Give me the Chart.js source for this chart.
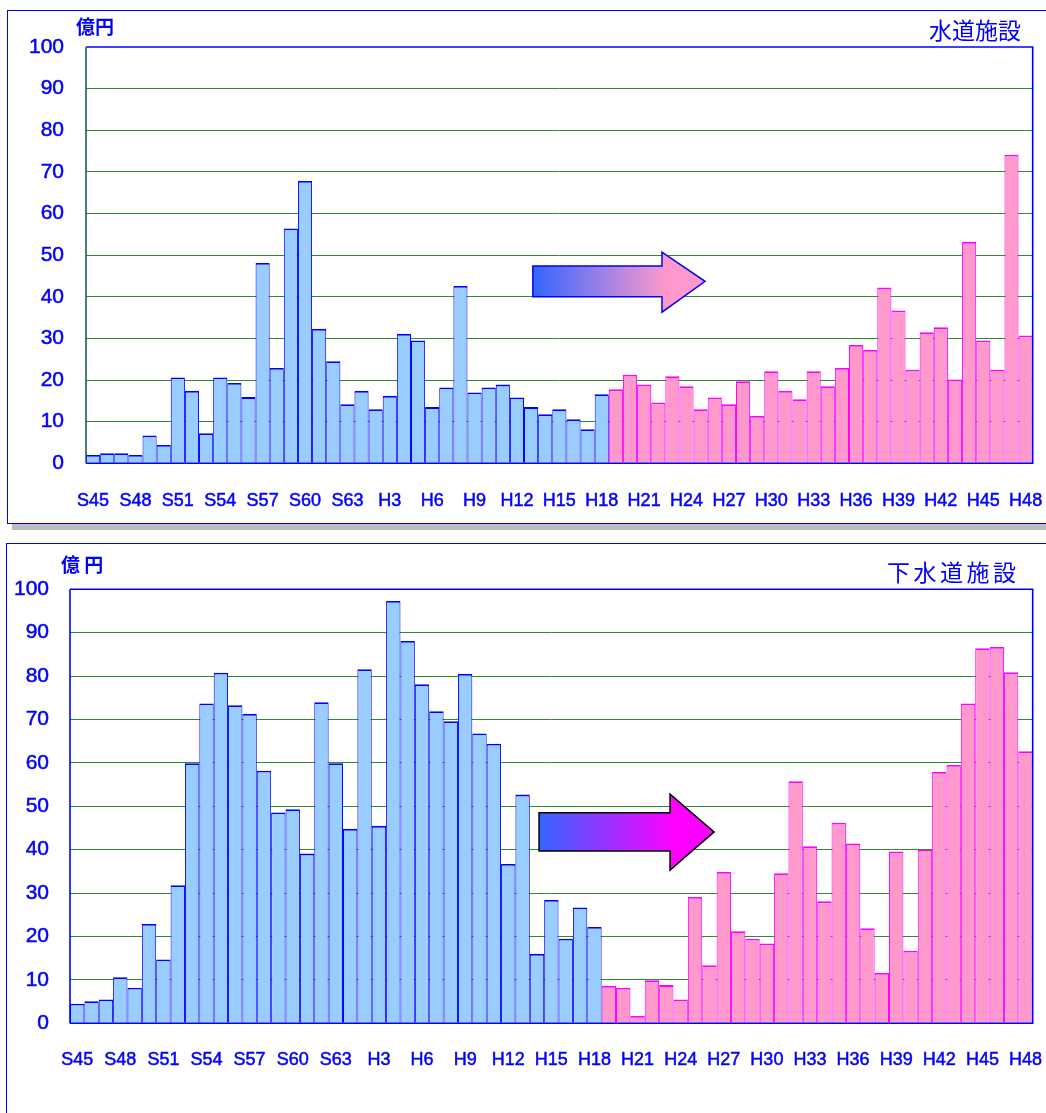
<!DOCTYPE html>
<html>
<head>
<meta charset="utf-8">
<script src="https://cdn.jsdelivr.net/npm/chart.js@4.4.1/dist/chart.umd.min.js"></script>
<style>
  html, body { margin: 0; padding: 0; background: #fff; overflow: hidden; }
  body { width: 1046px; height: 1113px; position: relative; }
  .panel { position: absolute; box-sizing: border-box; border: 1.6px solid #0000ff; background: #fff; }
  #panelWater { left: 6.5px; top: 9.5px; width: 1100px; height: 514px; box-shadow: 5px 6px 0 #bcbcbc; }
  #panelSewer { left: 6px; top: 543px; width: 1100px; height: 700px; }
  canvas { position: absolute; left: 0; }
  #waterChart { top: 0; }
  #sewerChart { top: 540px; }
</style>
</head>
<body>
<div class="panel" id="panelWater"></div>
<div class="panel" id="panelSewer"></div>
<canvas id="waterChart" width="1046" height="540"></canvas>
<canvas id="sewerChart" width="1046" height="573"></canvas>
<script>
// Fiscal years: Showa 45-63, then Heisei 1-48
const categories = [
  'S45','S46','S47','S48','S49','S50','S51','S52','S53','S54','S55','S56','S57','S58','S59','S60','S61','S62','S63',
  'H1','H2','H3','H4','H5','H6','H7','H8','H9','H10','H11','H12','H13','H14','H15','H16','H17','H18',
  'H19','H20','H21','H22','H23','H24','H25','H26','H27','H28','H29','H30','H31','H32','H33','H34','H35','H36',
  'H37','H38','H39','H40','H41','H42','H43','H44','H45','H46','H47','H48'
];
// every third year carries a label on the axis
const tickLabels = ['S45','S48','S51','S54','S57','S60','S63','H3','H6','H9','H12','H15','H18',
  'H21','H24','H27','H30','H33','H36','H39','H42','H45','H48'];

// 水道施設 (億円): built S45-H18, renewal need H19-H48
const waterActual = [2.0, 2.4, 2.4, 2.0, 6.7, 4.4, 20.6, 17.4, 7.2, 20.6, 19.3, 15.9, 48.1, 22.9, 56.4, 67.8, 32.3, 24.5, 14.2,
  17.4, 13.0, 16.2, 31.1, 29.5, 13.5, 18.2, 42.6, 17.0, 18.2, 18.9, 15.8, 13.5, 11.8, 13.0, 10.6, 8.2, 16.6];
const waterForecast = [17.8, 21.3, 18.9, 14.6, 20.9, 18.5, 13.0, 15.8, 14.2, 19.7, 11.4, 22.1, 17.4, 15.4, 22.1,
  18.5, 22.9, 28.4, 27.2, 42.2, 36.7, 22.5, 31.5, 32.7, 20.1, 53.2, 29.5, 22.5, 74.1, 30.7];

// 下水道施設 (億円)
const sewerActual = [4.5, 5.1, 5.5, 10.6, 8.2, 22.9, 14.7, 31.8, 59.9, 73.7, 80.8, 73.3, 71.3, 58.2, 48.6, 49.3, 39.1, 74.0, 59.9,
  44.8, 81.6, 45.5, 97.3, 88.1, 78.1, 71.9, 69.6, 80.5, 66.8, 64.4, 36.7, 52.7, 16.0, 28.4, 19.5, 26.7, 22.2];
const sewerForecast = [8.6, 8.2, 1.7, 9.9, 8.8, 5.5, 29.1, 13.4, 34.9, 21.2, 19.5, 18.4, 34.6, 55.8, 40.8,
  28.1, 46.2, 41.4, 21.9, 11.6, 39.6, 16.7, 40.0, 57.9, 59.5, 73.7, 86.4, 86.7, 80.9, 62.7];

const yTicks = [0, 10, 20, 30, 40, 50, 60, 70, 80, 90, 100];

const BLUE = '#0000ff';
const NUM_FONT = "'Liberation Sans', Arial, sans-serif";
const JP_FONT = "'Noto Sans CJK JP', sans-serif";

// frame around the plot, trend arrow, unit and title text
const decor = {
  id: 'decor',
  afterDatasetsDraw(chart, args, o) {
    const { ctx, chartArea: a, scales: { y } } = chart;
    ctx.save();
    // arrow
    const w = a.right - a.left;
    const x0 = a.left + w * o.arrow.x0, xh = a.left + w * o.arrow.xHead, xt = a.left + w * o.arrow.xTip;
    const s1 = y.getPixelForValue(o.arrow.shaftTop), s2 = y.getPixelForValue(o.arrow.shaftBottom);
    const h1 = y.getPixelForValue(o.arrow.headTop), h2 = y.getPixelForValue(o.arrow.headBottom);
    const ym = (s1 + s2) / 2;
    const g = ctx.createLinearGradient(x0, 0, xt, 0);
    g.addColorStop(0, '#3366ff');
    g.addColorStop(0.78, o.arrow.endColor);
    g.addColorStop(1, o.arrow.endColor);
    ctx.beginPath();
    ctx.moveTo(x0, s1); ctx.lineTo(xh, s1); ctx.lineTo(xh, h1); ctx.lineTo(xt, ym);
    ctx.lineTo(xh, h2); ctx.lineTo(xh, s2); ctx.lineTo(x0, s2); ctx.closePath();
    ctx.fillStyle = g; ctx.fill();
    ctx.lineWidth = 1.5; ctx.lineJoin = 'miter'; ctx.strokeStyle = o.arrow.stroke; ctx.stroke();

    // plot frame
    ctx.lineWidth = 1.6;
    ctx.strokeStyle = BLUE;
    ctx.beginPath();
    ctx.moveTo(a.left, a.top); ctx.lineTo(a.right, a.top); ctx.lineTo(a.right, a.bottom); ctx.lineTo(a.left, a.bottom);
    ctx.stroke();
    ctx.strokeStyle = o.leftColor;
    ctx.beginPath(); ctx.moveTo(a.left, a.top); ctx.lineTo(a.left, a.bottom); ctx.stroke();

    // texts
    ctx.fillStyle = BLUE;
    ctx.textBaseline = 'middle';
    ctx.textAlign = 'left';
    ctx.font = 'bold 19px ' + JP_FONT;
    ctx.fillText(o.unit, o.unitX, o.unitY);
    ctx.font = '23px ' + JP_FONT;
    ctx.textAlign = 'right';
    ctx.letterSpacing = o.titleSpacing + 'px';
    ctx.fillText(o.title, o.titleRight + o.titleSpacing, o.titleY);
    ctx.letterSpacing = '0px';
    ctx.restore();
  }
};

function makeChart(id, actual, forecast, L) {
  const values = actual.concat(forecast);
  const past = actual.length;
  return new Chart(document.getElementById(id), {
    type: 'bar',
    data: {
      labels: categories,
      datasets: [{
        data: values,
        backgroundColor: c => c.dataIndex < past ? '#99ccff' : '#ff99cc',
        borderColor: c => c.dataIndex < past ? BLUE : '#ff00ff',
        borderWidth: { top: 1.8, left: 1, right: 1, bottom: 0 },
        borderSkipped: false,
        barPercentage: 1,
        categoryPercentage: 1,
        inflateAmount: 0
      }]
    },
    options: {
      responsive: false,
      animation: false,
      devicePixelRatio: 1,
      layout: { padding: { top: L.top, right: L.right, left: 0, bottom: 0 } },
      plugins: {
        legend: { display: false },
        tooltip: { enabled: false },
        decor: L.decor
      },
      scales: {
        x: {
          grid: { display: false },
          border: { display: false },
          ticks: {
            autoSkip: false, maxRotation: 0, minRotation: 0,
            padding: L.xPad,
            color: BLUE,
            textStrokeColor: BLUE,
            textStrokeWidth: 0.5,
            font: { family: NUM_FONT, size: 18 },
            callback(v) { const t = this.getLabelForValue(v); return tickLabels.includes(t) ? t : ''; }
          },
          afterFit(s) { s.height = L.xHeight; s.paddingLeft = 0; s.paddingRight = 0; }
        },
        y: {
          min: 0, max: 100,
          afterBuildTicks(s) { s.ticks = yTicks.map(v => ({ value: v })); },
          grid: {
            drawTicks: false,
            lineWidth: 1,
            color: c => (c.tick && (c.tick.value === 0 || c.tick.value === 100)) ? 'rgba(0,0,0,0)' : '#2e8b2e'
          },
          border: { display: false },
          ticks: {
            padding: L.yPad,
            color: BLUE,
            textStrokeColor: BLUE,
            textStrokeWidth: 0.5,
            font: { family: NUM_FONT, size: 21 }
          },
          afterFit(s) { s.width = L.yWidth; s.paddingTop = 0; s.paddingBottom = 0; }
        }
      }
    },
    plugins: [decor]
  });
}

makeChart('waterChart', waterActual, waterForecast, {
  top: 47, right: 13.3, xHeight: 76.7, yWidth: 86, yPad: 22, xPad: 19,
  decor: {
    unit: '億円', unitX: 76, unitY: 27,
    title: '水道施設', titleRight: 1021, titleY: 30, titleSpacing: 0,
    leftColor: '#1f5a6a',
    arrow: { x0: 0.472, xHead: 0.6084, xTip: 0.6539, shaftTop: 47.4, shaftBottom: 40.0, headTop: 50.7, headBottom: 36.3,
             endColor: '#ff99cc', stroke: BLUE }
  }
});

makeChart('sewerChart', sewerActual, sewerForecast, {
  top: 49.3, right: 13.3, xHeight: 89.7, yWidth: 70, yPad: 21, xPad: 18.4,
  decor: {
    unit: '億 円', unitX: 61, unitY: 25,
    title: '下水道施設', titleRight: 1016, titleY: 32, titleSpacing: 3.5,
    leftColor: BLUE,
    arrow: { x0: 0.4872, xHead: 0.6233, xTip: 0.669, shaftTop: 48.5, shaftBottom: 39.7, headTop: 52.8, headBottom: 35.3,
             endColor: '#ff00ff', stroke: '#000000' }
  }
});
</script>
</body>
</html>
